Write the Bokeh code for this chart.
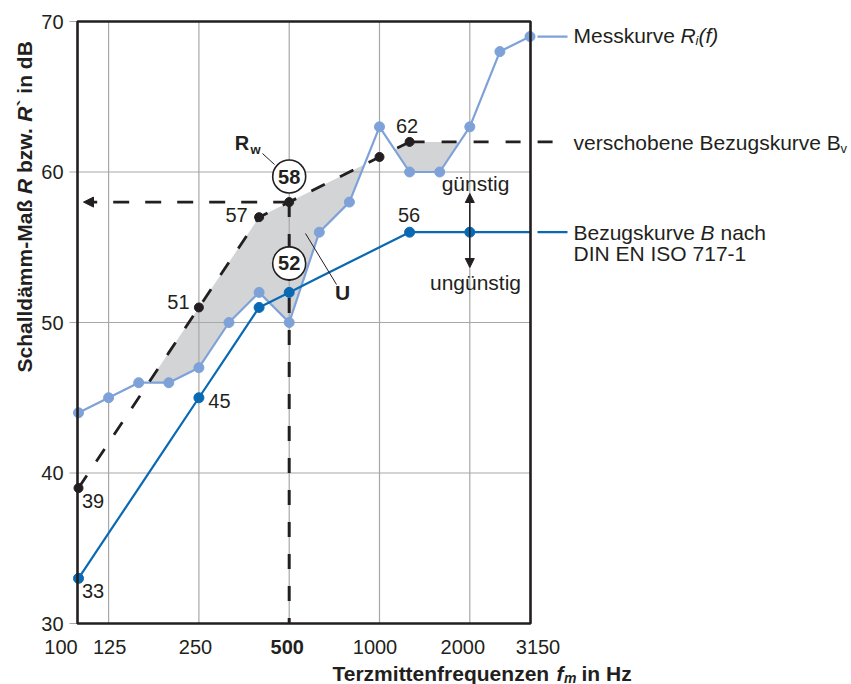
import numpy as np
from bokeh.plotting import figure
from bokeh.models import Range1d, Label, Arrow, NormalHead
from bokeh.embed import file_html
from bokeh.resources import INLINE

# ---------------- data ----------------
bands = ["100", "125", "160", "200", "250", "315", "400", "500",
         "630", "800", "1000", "1250", "1600", "2000", "2500", "3150"]
measured = [44, 45, 46, 46, 47, 50, 52, 50, 56, 58, 63, 60, 60, 63, 68, 69]
reference = [33, 36, 39, 42, 45, 48, 51, 52, 53, 54, 55, 56, 56, 56, 56, 56]
shift = 6
shifted = [r + shift for r in reference]
rw_band = "500"
ref_marked = ["100", "250", "400", "500", "1250", "2000"]
shifted_marked = ["100", "250", "400", "500", "1000", "1250"]
shifted_labelled = ["100", "250", "400", "1250"]
ref_labelled = ["100", "250", "1250"]
x_tick_labels = ["100", "125", "250", "500", "1000", "2000", "3150"]
grid_bands = ["125", "250", "500", "1000", "2000"]
y_ticks = [30, 40, 50, 60, 70]

idx = list(range(len(bands)))
pos = {b: i for i, b in enumerate(bands)}
rw_i = pos[rw_band]
rw_value = shifted[rw_i]
ref_at_rw = reference[rw_i]

# ---------------- style helpers ----------------
TXT = "#231f20"
LB = "#7ea2d8"
DB = "#0a69b3"
GRID = "#a8a8a8"
FONT = "Liberation Sans"
PXI = 30.1     # pixels per band
PYD = 15.05    # pixels per dB
W, H = 851, 684


def X(px):
    return (px - 78) / PXI


def Y(py):
    return 30 + (623 - py) / PYD


# plot area bounds (data space)
x_lo, x_hi = idx[0] - 1 / PXI, idx[-1] + 0.5 / PXI
y_lo, y_hi = min(y_ticks), max(y_ticks)

p = figure(frame_width=W, frame_height=H,
           x_range=Range1d(X(0), X(W)), y_range=Range1d(Y(H), Y(0)),
           min_border=0, min_border_left=0, min_border_right=0,
           min_border_top=0, min_border_bottom=0,
           toolbar_location=None, output_backend="svg")
p.background_fill_color = "white"
p.border_fill_color = "white"
p.outline_line_color = None
p.xaxis.visible = False
p.yaxis.visible = False
p.xgrid.visible = False
p.ygrid.visible = False

# ---------------- unfavourable deviations (grey area) ----------------
m = np.array(measured, float)
s = np.array(shifted, float)
fx, fm, fs = [], [], []
for i in range(len(idx)):
    fx.append(i); fm.append(m[i]); fs.append(s[i])
    if i < len(idx) - 1:
        d0, d1 = s[i] - m[i], s[i + 1] - m[i + 1]
        if d0 * d1 < 0:
            t = d0 / (d0 - d1)
            fx.append(i + t)
            fm.append(m[i] + t * (m[i + 1] - m[i]))
            fs.append(s[i] + t * (s[i + 1] - s[i]))
fm = np.array(fm); fs = np.array(fs)
p.varea(x=fx, y1=np.minimum(fm, fs), y2=fs, fill_color="#d3d4d6")

# ---------------- grid and y ticks ----------------
gx = [pos[b] for b in grid_bands]
p.segment(x0=gx, y0=[y_lo] * len(gx), x1=gx, y1=[y_hi] * len(gx),
          line_color=GRID, line_width=1.2)
gy = y_ticks[1:-1]
p.segment(x0=[x_lo] * len(gy), y0=gy, x1=[x_hi] * len(gy), y1=gy,
          line_color=GRID, line_width=1.2)
p.segment(x0=[x_lo - 8 / PXI] * len(y_ticks), y0=y_ticks, x1=[x_lo] * len(y_ticks),
          y1=y_ticks, line_color=GRID, line_width=1.2)

# ---------------- lines ----------------
DASH = "15 17"
p.line([rw_i, rw_i], [rw_value, y_lo], line_color=TXT, line_width=3, line_dash=DASH)

p.line(idx, measured, line_color=LB, line_width=2.2)
p.scatter(idx, measured, size=10, color=LB)

p.line(idx, reference, line_color=DB, line_width=2.2)
p.scatter([pos[b] for b in ref_marked], [reference[pos[b]] for b in ref_marked],
          size=10, color=DB)

last = pos["1250"]
p.line(idx[:last + 1], shifted[:last + 1], line_color=TXT, line_width=2.8, line_dash=DASH)
p.scatter([pos[b] for b in shifted_marked], [shifted[pos[b]] for b in shifted_marked],
          size=9, color=TXT)

# extensions toward the legend texts
p.line([X(537), X(567)], [measured[-1]] * 2, line_color=LB, line_width=2.2)
p.line([last, X(566)], [shifted[last]] * 2, line_color=TXT, line_width=2.8, line_dash=DASH)
p.line([X(537), X(567)], [reference[-1]] * 2, line_color=DB, line_width=2.2)

# plot-area frame
p.quad(left=x_lo, right=x_hi, bottom=y_lo, top=y_hi, fill_color=None,
       line_color=TXT, line_width=2.6)

# Rw arrow to the axis
p.add_layout(Arrow(end=NormalHead(size=10, fill_color=TXT, line_color=TXT, line_width=1),
                   x_start=rw_i, y_start=rw_value, x_end=X(83), y_end=rw_value,
                   line_color=TXT, line_width=2.6, line_dash="16 16"))

# circles
p.scatter([rw_i, rw_i], [rw_value + 25.6 / PYD, ref_at_rw + 29 / PYD], size=33,
          fill_color="white", line_color=TXT, line_width=1.6)


def lab(x, y, text, size=20, style="normal", align="center", baseline="middle",
        angle=0, x_offset=0):
    p.add_layout(Label(x=x, y=y, text=text, text_font=FONT, text_font_size=f"{size}px",
                       text_font_style=style, text_color=TXT, text_align=align,
                       text_baseline=baseline, angle=angle, x_offset=x_offset))


lab(rw_i, rw_value + 25.6 / PYD, str(rw_value), 20, "bold")
lab(rw_i, ref_at_rw + 29 / PYD, str(ref_at_rw), 20, "bold")

# value labels (offsets in pixels: dx right, dy down)
value_offsets_shifted = {"100": (14.5, 13), "250": (-20.5, -5.5), "400": (-22.5, -2),
                         "1250": (-2.5, -16)}
for b in shifted_labelled:
    dx, dy = value_offsets_shifted[b]
    v = shifted[pos[b]]
    lab(pos[b], v - dy / PYD, str(v), x_offset=dx)
value_offsets_ref = {"100": (14.5, 12.7), "250": (20.5, 3), "1250": (-0.5, -17)}
for b in ref_labelled:
    dx, dy = value_offsets_ref[b]
    v = reference[pos[b]]
    lab(pos[b], v - dy / PYD, str(v), x_offset=dx)

# Rw label and leader
lab(X(241.5), Y(142.5), "R", 20, "bold")
lab(X(255), Y(148.5), "w", 13, "bold")
p.add_layout(Arrow(end=None, x_start=X(262), y_start=Y(153), x_end=X(274), y_end=Y(164),
                   line_color=TXT, line_width=1))

# U label and leader
lab(X(342), Y(292), "U", 21, "bold")
p.add_layout(Arrow(end=None, x_start=X(305), y_start=Y(233), x_end=X(336), y_end=Y(284),
                   line_color=TXT, line_width=1))

# guenstig / unguenstig
lab(X(475), Y(183), "günstig", 21)
lab(X(475), Y(282), "ungünstig", 21)
p.add_layout(Arrow(start=NormalHead(size=9, fill_color=TXT, line_color=TXT, line_width=1),
                   end=NormalHead(size=9, fill_color=TXT, line_color=TXT, line_width=1),
                   x_start=pos["2000"], y_start=Y(193), x_end=pos["2000"], y_end=Y(267),
                   line_color=TXT, line_width=1.5))

# y tick labels
for v in y_ticks:
    lab(x_lo, v, str(v), 20, "normal", "right", x_offset=-14)

# x tick labels
tick_dx = {"100": -17.5, "125": 1, "250": -3.4, "500": -2, "1000": -4.5,
           "2000": -7, "3150": 8}
for b in x_tick_labels:
    lab(pos[b], Y(646), b, 20, "bold" if b == rw_band else "normal", x_offset=tick_dx[b])

# axis titles
lab(X(332), Y(673), "Terzmittenfrequenzen", 21, "bold", "left", "middle")
lab(X(556), Y(673), "f", 21, "bold italic", "left", "middle")
lab(X(563.5), Y(677), "m", 14, "bold italic", "left", "middle")
lab(X(581), Y(673), "in Hz", 21, "bold", "left", "middle")

ax = X(24)
lab(ax, Y(372), "Schalldämm-Maß", 21, "bold", "left", "middle", np.pi / 2)
lab(ax, Y(193.5), "R", 21, "bold italic", "left", "middle", np.pi / 2)
lab(ax, Y(172.5), "bzw.", 21, "bold", "left", "middle", np.pi / 2)
lab(ax, Y(121.2), "R", 21, "bold italic", "left", "middle", np.pi / 2)
lab(ax, Y(106.0), "` in dB", 21, "bold", "left", "middle", np.pi / 2)

# legend texts
lab(X(573), Y(35), "Messkurve", 21, "normal", "left")
lab(X(680), Y(35), "R", 21, "italic", "left")
lab(X(695), Y(40), "i", 13, "italic", "left")
lab(X(698), Y(35), "(f)", 21, "italic", "left")

lab(X(573), Y(142), "verschobene Bezugskurve B", 21, "normal", "left")
lab(X(840), Y(148), "v", 13, "normal", "left")

lab(X(573), Y(232), "Bezugskurve", 21, "normal", "left")
lab(X(700), Y(232), "B", 21, "italic", "left")
lab(X(720), Y(232), "nach", 21, "normal", "left")
lab(X(573), Y(253), "DIN EN ISO 717-1", 21, "normal", "left")

open("out.html", "w").write(file_html(p, INLINE))
